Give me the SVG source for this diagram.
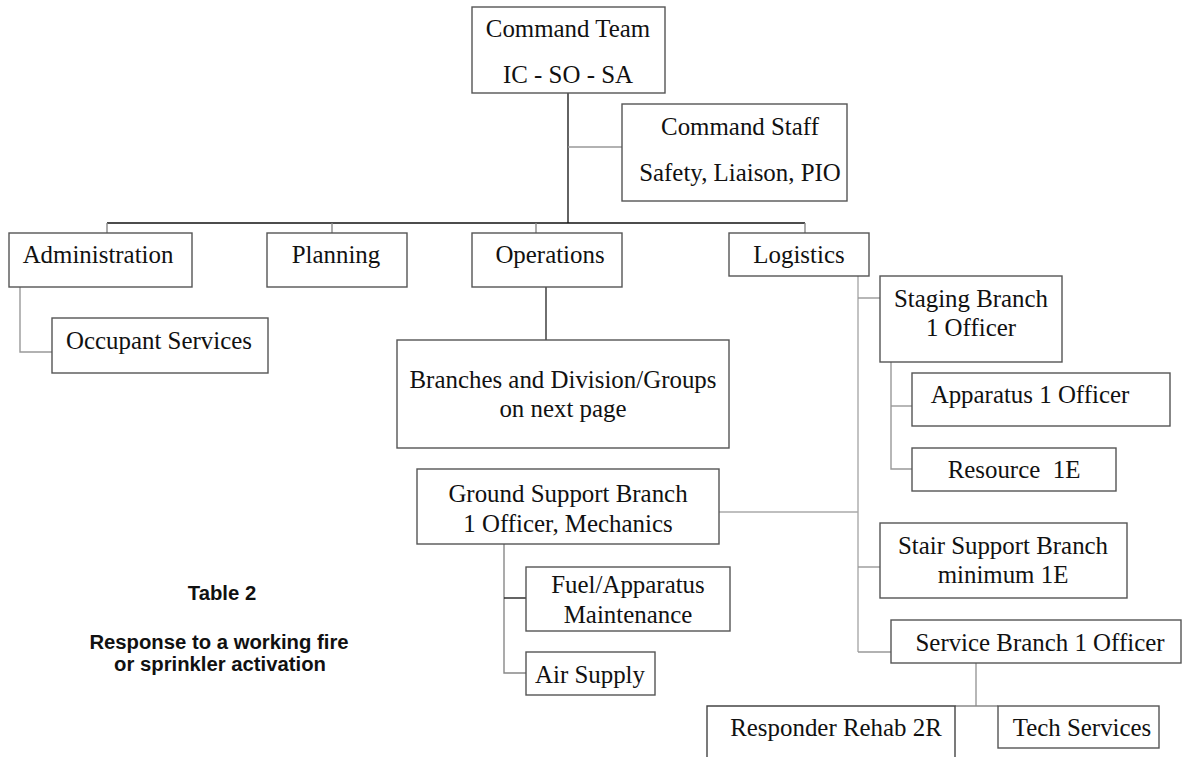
<svg xmlns="http://www.w3.org/2000/svg" width="1184" height="757" viewBox="0 0 1184 757">
<style>
  .box { fill: #fff; stroke: #555; stroke-width: 1.4; }
  .t { font-family: "Liberation Serif", "Times New Roman", serif; font-size: 24.9px; fill: #111; text-anchor: middle; }
  .cap { font-family: "Liberation Sans", Arial, sans-serif; font-size: 20.3px; font-weight: bold; fill: #111; text-anchor: middle; }
  .ln { fill: none; stroke-width: 1.4; }
</style>
<rect width="1184" height="757" fill="#fff"/>
<g id="connectors">
  <line class="ln" stroke="#222" x1="568" y1="93" x2="568" y2="223"/>
  <line class="ln" stroke="#999" x1="568" y1="147" x2="622" y2="147"/>
  <line class="ln" stroke="#111" x1="107" y1="223" x2="805" y2="223"/>
  <line class="ln" stroke="#888" x1="107" y1="223" x2="107" y2="233"/>
  <line class="ln" stroke="#888" x1="332" y1="223" x2="332" y2="233"/>
  <line class="ln" stroke="#888" x1="536" y1="223" x2="536" y2="233"/>
  <line class="ln" stroke="#888" x1="805" y1="223" x2="805" y2="233"/>
  <polyline class="ln" stroke="#999" points="20,287 20,352 52,352"/>
  <line class="ln" stroke="#333" x1="546" y1="287" x2="546" y2="340"/>
  <line class="ln" stroke="#aaa" x1="858" y1="276" x2="858" y2="652"/>
  <line class="ln" stroke="#999" x1="858" y1="298" x2="880" y2="298"/>
  <polyline class="ln" stroke="#999" points="891,362 891,469 912,469"/>
  <line class="ln" stroke="#999" x1="891" y1="406" x2="912" y2="406"/>
  <line class="ln" stroke="#aaa" x1="719" y1="512" x2="858" y2="512"/>
  <line class="ln" stroke="#999" x1="858" y1="567" x2="880" y2="567"/>
  <line class="ln" stroke="#999" x1="858" y1="652" x2="891" y2="652"/>
  <polyline class="ln" stroke="#888" points="504,544 504,673 526,673"/>
  <line class="ln" stroke="#222" x1="504" y1="598" x2="526" y2="598"/>
  <line class="ln" stroke="#999" x1="976" y1="663" x2="976" y2="706"/>
  <line class="ln" stroke="#888" x1="955" y1="706" x2="998" y2="706"/>
</g>
<g id="command-team">
  <rect class="box" stroke="#777" x="472" y="7" width="193" height="86"/>
  <text class="t" x="568" y="37">Command Team</text>
  <text class="t" x="568" y="83">IC - SO - SA</text>
</g>
<g id="command-staff">
  <rect class="box" stroke="#333" x="622" y="104" width="225" height="97"/>
  <text class="t" x="740" y="135">Command Staff</text>
  <text class="t" x="740" y="181">Safety, Liaison, PIO</text>
</g>
<g id="administration">
  <rect class="box" stroke="#555" x="9" y="233" width="183" height="54"/>
  <text class="t" x="98" y="263">Administration</text>
</g>
<g id="planning">
  <rect class="box" stroke="#888" x="267" y="233" width="140" height="54"/>
  <text class="t" x="336" y="263">Planning</text>
</g>
<g id="operations">
  <rect class="box" stroke="#777" x="472" y="233" width="150" height="54"/>
  <text class="t" x="550" y="263">Operations</text>
</g>
<g id="logistics">
  <rect class="box" stroke="#555" x="729" y="233" width="140" height="43"/>
  <text class="t" x="799" y="263">Logistics</text>
</g>
<g id="occupant-services">
  <rect class="box" stroke="#666" x="52" y="318" width="216" height="55"/>
  <text class="t" x="159" y="349">Occupant Services</text>
</g>
<g id="branches">
  <rect class="box" stroke="#444" x="397" y="340" width="332" height="108"/>
  <text class="t" x="563" y="388">Branches and Division/Groups</text>
  <text class="t" x="563" y="417">on next page</text>
</g>
<g id="staging-branch">
  <rect class="box" stroke="#444" x="880" y="276" width="182" height="86"/>
  <text class="t" x="971" y="307">Staging Branch</text>
  <text class="t" x="971" y="336">1 Officer</text>
</g>
<g id="apparatus">
  <rect class="box" stroke="#888" x="912" y="373" width="258" height="53"/>
  <text class="t" x="1030" y="403">Apparatus 1 Officer</text>
</g>
<g id="resource">
  <rect class="box" stroke="#777" x="912" y="448" width="204" height="43"/>
  <text class="t" x="1014" y="478">Resource&#160; 1E</text>
</g>
<g id="ground-support">
  <rect class="box" stroke="#666" x="417" y="469" width="302" height="75"/>
  <text class="t" x="568" y="502">Ground Support Branch</text>
  <text class="t" x="568" y="532">1 Officer, Mechanics</text>
</g>
<g id="fuel-maintenance">
  <rect class="box" stroke="#333" x="526" y="567" width="204" height="64"/>
  <text class="t" x="628" y="593">Fuel/Apparatus</text>
  <text class="t" x="628" y="623">Maintenance</text>
</g>
<g id="air-supply">
  <rect class="box" stroke="#777" x="526" y="652" width="129" height="43"/>
  <text class="t" x="590" y="683">Air Supply</text>
</g>
<g id="stair-support">
  <rect class="box" stroke="#222" x="880" y="523" width="247" height="75"/>
  <text class="t" x="1003" y="554">Stair Support Branch</text>
  <text class="t" x="1003" y="583">minimum 1E</text>
</g>
<g id="service-branch">
  <rect class="box" stroke="#444" x="891" y="620" width="290" height="43"/>
  <text class="t" x="1040" y="651">Service Branch 1 Officer</text>
</g>
<g id="responder-rehab">
  <path class="ln" stroke="#444" d="M707,760 L707,706 L955,706 L955,760"/>
  <text class="t" x="836" y="736">Responder Rehab 2R</text>
</g>
<g id="tech-services">
  <rect class="box" stroke="#888" x="998" y="706" width="161" height="42"/>
  <text class="t" x="1082" y="736">Tech Services</text>
</g>
<g id="caption">
  <text class="cap" x="222" y="600">Table 2</text>
  <text class="cap" x="219" y="649">Response to a working fire</text>
  <text class="cap" x="220" y="671">or sprinkler activation</text>
</g>
</svg>
